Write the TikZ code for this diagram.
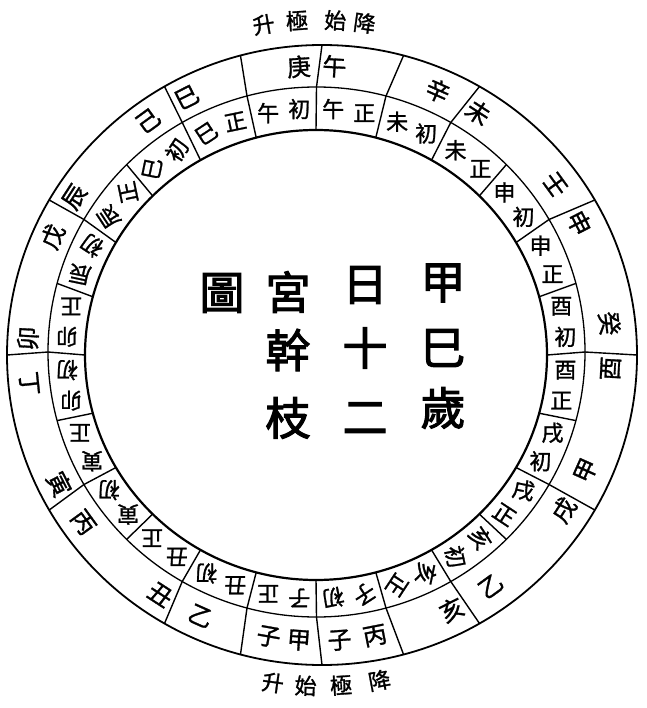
\documentclass[tikz,border=0pt]{standalone}
\usepackage{fontspec}
\newfontfamily\cjk[FakeBold=1.2]{Noto Sans CJK TC}
\newfontfamily\cjkt[FakeBold=2.5]{Noto Sans CJK TC}
\begin{document}
\begin{tikzpicture}[x=1pt,y=-1pt,
  circ/.style={line width=1.8pt},
  midcirc/.style={line width=1.3pt},
  spoke/.style={line width=1.4pt},
  inch/.style={font=\cjk\fontsize{22}{22}\selectfont,inner sep=0pt},
  outch/.style={font=\cjk\fontsize{24}{24}\selectfont,inner sep=0pt},
  edgech/.style={font=\cjk\fontsize{22}{22}\selectfont,inner sep=0pt},
  titlech/.style={font=\cjkt\fontsize{45}{45}\selectfont,inner sep=0pt}]
\useasboundingbox (0,0) rectangle (646,708);
\fill[white] (0,0) rectangle (646,708);
% circles
\draw[circ] (322,355) ellipse [x radius=315pt,y radius=310pt];
\draw[midcirc] (316.5,352) ellipse [x radius=268.5pt,y radius=265pt];
\draw[circ,line width=2.2pt] (316,355) ellipse [x radius=231pt,y radius=225pt];
% inner ring spokes
\foreach \t in {0,15,...,345}{
  \draw[spoke] ({316+231*sin(\t)},{355-225*cos(\t)}) -- ({316.5+268.5*sin(\t)},{352-265*cos(\t)});
}
% outer ring spokes
\foreach \t in {0,15,30,60,90,120,150,165,180,195,210,240,270,300,330,345}{
  \draw[spoke] ({316.5+268.5*sin(\t)},{352-265*cos(\t)}) -- ({322+315*sin(\t)},{355-310*cos(\t)});
}
% inner ring labels
\foreach \a/\b [count=\k from 0] in {午/正,未/初,未/正,申/初,申/正,酉/初,酉/正,戌/初,戌/正,亥/初,亥/正,子/初,子/正,丑/初,丑/正,寅/初,寅/正,卯/初,卯/正,辰/初,辰/正,巳/初,巳/正,午/初}{
  \pgfmathsetmacro\tc{7.5+15*\k}
  \pgfmathsetmacro\ta{\tc-3.6}
  \pgfmathsetmacro\tb{\tc+3.6}
  \pgfmathsetmacro\ra{(\ta<=120)?0:((\ta<=180)?(-3*(\ta-120)):((\ta<=285)?(-180):((\ta<=345)?(-180-3*(\ta-285)):0)))}
  \pgfmathsetmacro\rb{(\tb<=120)?0:((\tb<=180)?(-3*(\tb-120)):((\tb<=285)?(-180):((\tb<=345)?(-180-3*(\tb-285)):0)))}
  \node[inch,rotate=\ra] (ia\k) at ({316.25+249.75*sin(\ta)},{353.5-245*cos(\ta)}) {\a};
  \node[inch,rotate=\rb] (ib\k) at ({316.25+249.75*sin(\tb)},{353.5-245*cos(\tb)}) {\b};
}
% outer ring labels
\foreach \t/\c [count=\k] in {356/庚,3/午,24/辛,33/未,54/壬,63/申,84/癸,93/酉,114/甲,123/戌,144/乙,153/亥,169/丙,176/子,184/甲,190/子,204/乙,213/丑,234/丙,243/寅,264/丁,273/卯,294/戊,303/辰,324/己,333/巳}{
  \pgfmathsetmacro\r{((\t<=90)||(\t>=270))?(0-\t):(180-\t)}
  \node[outch,rotate=\r] (o\k) at ({319.25+291.75*sin(\t)},{353.5-287.5*cos(\t)}) {\c};
}
% text outside the circle
\foreach \t/\c [count=\k] in {-9.5/升,-3.8/極,2.8/始,7.8/降}{
  \pgfmathsetmacro\r{0-(\t)}
  \node[edgech,rotate=\r] (et\k) at ({319+335*sin(\t)},{355-335*cos(\t)}) {\c};
}
\foreach \t/\c [count=\k] in {188/升,182.3/始,176.2/極,169.5/降}{
  \pgfmathsetmacro\r{180-\t}
  \node[edgech,rotate=\r] (eb\k) at ({319+331*sin(\t)},{355-331*cos(\t)}) {\c};
}
% title
\node[titlech] (t1) at (443,283) {甲};
\node[titlech] (t2) at (443,348) {巳};
\node[titlech] (t3) at (443,408) {歲};
\node[titlech] (t4) at (365,285) {日};
\node[titlech] (t5) at (365,348) {十};
\node[titlech] (t6) at (365,418) {二};
\node[titlech] (t7) at (288,292) {宮};
\node[titlech] (t8) at (288,350) {幹};
\node[titlech] (t9) at (288,418) {枝};
\node[titlech] (t10) at (222,293) {圖};
\end{tikzpicture}
\end{document}
